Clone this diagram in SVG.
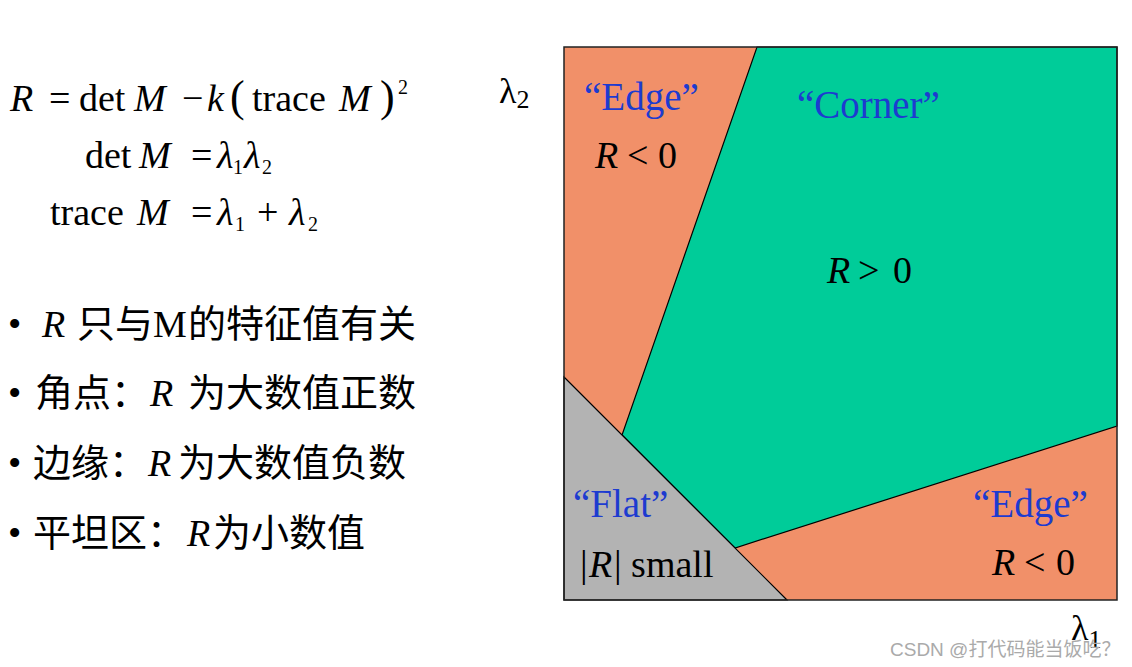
<svg xmlns="http://www.w3.org/2000/svg" width="1132" height="667" viewBox="0 0 1132 667">
<style>
.m{font-family:"Liberation Serif","Times New Roman",serif;font-size:38px;fill:#000}
.i{font-style:italic}
.s{font-size:20px}
.cj{font-family:"Liberation Serif","Noto Sans CJK SC",serif;font-size:38px;fill:#000}
.zh{font-family:"Noto Sans CJK SC",sans-serif}
.lab{font-family:"Liberation Serif","Times New Roman",serif;font-size:39px;fill:#1d3bd0}
.r{font-family:"Liberation Serif","Times New Roman",serif;font-size:38px;fill:#000}
.ax{font-family:"Liberation Serif","DejaVu Serif",serif;font-size:36px;fill:#000}
</style>
<rect width="1132" height="667" fill="#fff"/>
<g id="formulas">
<text class="m" y="111"><tspan class="i" x="10">R</tspan><tspan x="49">=</tspan><tspan x="79">det</tspan><tspan class="i" x="134">M</tspan><tspan x="182">−</tspan><tspan class="i" x="207">k</tspan><tspan x="230" font-size="44">(</tspan><tspan x="252">trace</tspan><tspan class="i" x="339">M</tspan><tspan x="380" font-size="44">)</tspan><tspan x="398" y="94" class="s">2</tspan></text>
<text class="m" y="168"><tspan x="85">det</tspan><tspan class="i" x="139">M</tspan><tspan x="191">=</tspan><tspan class="i" x="217">λ</tspan><tspan class="s" x="233" y="174" font-size="17">1</tspan><tspan class="i" x="244" y="168">λ</tspan><tspan class="s" x="262" y="174">2</tspan></text>
<text class="m" y="225"><tspan x="50">trace</tspan><tspan class="i" x="137">M</tspan><tspan x="191">=</tspan><tspan class="i" x="217">λ</tspan><tspan class="s" x="235" y="231" font-size="17">1</tspan><tspan x="257" y="225">+</tspan><tspan class="i" x="289">λ</tspan><tspan class="s" x="308" y="231">2</tspan></text>
</g>
<g id="bullets">
<text class="cj" y="337"><tspan x="8">•</tspan><tspan class="i" x="42">R</tspan><tspan class="zh" x="77">只与</tspan><tspan x="153">M</tspan><tspan class="zh" x="188">的特征值有关</tspan></text>
<text class="cj" y="406"><tspan x="8">•</tspan><tspan class="zh" x="35">角点：</tspan><tspan class="i" x="150">R</tspan><tspan class="zh" x="188">为大数值正数</tspan></text>
<text class="cj" y="476"><tspan x="8">•</tspan><tspan class="zh" x="33">边缘：</tspan><tspan class="i" x="148">R</tspan><tspan class="zh" x="178">为大数值负数</tspan></text>
<text class="cj" y="546"><tspan x="8">•</tspan><tspan class="zh" x="33">平坦区：</tspan><tspan class="i" x="187">R</tspan><tspan class="zh" x="213">为小数值</tspan></text>
</g>
<g id="chart">
<rect id="edge-regions" x="564" y="47" width="553" height="553" fill="#f19069"/>
<polygon id="corner-region" points="757,47 1117,47 1117,426 735,548 622,435" fill="#00cc99" stroke="#000" stroke-width="1.2"/>
<polygon id="flat-region" points="564,377 787,600 564,600" fill="#b3b3b3" stroke="#000" stroke-width="1.2"/>
<rect x="564" y="47" width="553" height="553" fill="none" stroke="#222" stroke-width="1.5"/>
</g>
<g id="labels">
<text class="lab" x="584" y="110">“Edge”</text>
<text class="r" y="168"><tspan class="i" x="595">R</tspan><tspan x="627">&lt;</tspan><tspan x="658">0</tspan></text>
<text class="lab" x="797" y="118">“Corner”</text>
<text class="r" y="283"><tspan class="i" x="827">R</tspan><tspan x="858">&gt;</tspan><tspan x="893">0</tspan></text>
<text class="lab" x="573" y="517">“Flat”</text>
<text class="r" y="577"><tspan x="580">|</tspan><tspan class="i" x="589">R</tspan><tspan x="614">| small</tspan></text>
<text class="lab" x="973" y="517">“Edge”</text>
<text class="r" y="575"><tspan class="i" x="992">R</tspan><tspan x="1024">&lt;</tspan><tspan x="1056">0</tspan></text>
</g>
<g id="axes">
<text class="ax" x="499" y="103">λ<tspan font-size="26" y="108">2</tspan></text>
<text class="ax" x="1071" y="640">λ<tspan font-size="26" y="648">1</tspan></text>
</g>
<text x="890" y="656" font-family="Liberation Sans,Noto Sans CJK SC,sans-serif" font-size="19" fill="#aaa">CSDN @打代码能当饭吃？</text>
</svg>
